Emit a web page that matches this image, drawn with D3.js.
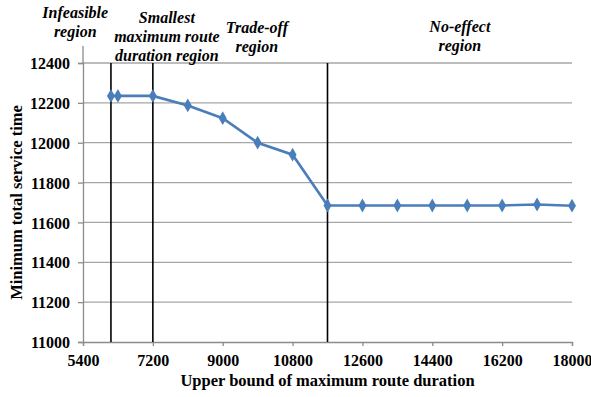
<!DOCTYPE html>
<html>
<head>
<meta charset="utf-8">
<script src="https://cdn.jsdelivr.net/npm/d3@7"></script>
<style>
  body { margin: 0; background: #fff; }
</style>
</head>
<body>
<svg width="591" height="397"></svg>
<script>
// values
var durations = [6120, 6300, 7200, 8100, 9000, 9900, 10800, 11700, 12600, 13500, 14400, 15300, 16200, 17100, 18000];
var serviceTimes = [12235, 12235, 12235, 12187, 12123, 12000, 11940, 11685, 11685, 11685, 11685, 11685, 11685, 11690, 11684];
var xTicks = [5400, 7200, 9000, 10800, 12600, 14400, 16200, 18000];
var yTicks = [11000, 11200, 11400, 11600, 11800, 12000, 12200, 12400];
var boundaries = [6120, 7200, 11700];
var regionNames = [["Infeasible", "region"], ["Smallest", "maximum route", "duration region"], ["Trade-off", "region"], ["No-effect", "region"]];
var regionCenters = [5200, 7560, 9880, 15110];

var serif = "'Liberation Serif', 'Times New Roman', Tinos, 'DejaVu Serif', serif";

const svg = d3.select("svg")
  .attr("font-family", serif)
  .attr("font-weight", "bold");
var mLeft = 83, mRight = 572, mTop = 63, mBottom = 342;
var labelTops = [18, 23, 33, 32];

var x = d3.scaleLinear().domain([5400, 18000]).range([mLeft, mRight]);
var y = d3.scaleLinear().domain([11000, 12400]).range([mBottom, mTop]);

// gridlines
svg.append("g")
  .selectAll("line")
  .data(yTicks.slice(1))
  .join("line")
  .attr("x1", mLeft)
  .attr("x2", mRight)
  .attr("y1", function (d) { return y(d); })
  .attr("y2", function (d) { return y(d); })
  .attr("stroke", "#a6a6a6")
  .attr("stroke-width", 1.3);

// axes
var yAxis = svg.append("g")
  .attr("transform", "translate(" + mLeft + ",0)")
  .call(d3.axisLeft(y).tickValues(yTicks).tickSize(5).tickPadding(8).tickFormat(d3.format("d")));
var xAxis = svg.append("g")
  .attr("transform", "translate(0," + mBottom + ")")
  .call(d3.axisBottom(x).tickValues(xTicks).tickSize(4).tickPadding(6).tickFormat(d3.format("d")));

// the value axis line runs a bit past the top gridline
yAxis.append("line")
  .attr("y1", y(12400))
  .attr("y2", y(12485))
  .attr("stroke", "#8c8c8c")
  .attr("stroke-width", 1.3);

[yAxis, xAxis].forEach(function (a) {
  a.attr("font-family", serif).attr("font-size", 16);
  a.select(".domain").attr("stroke", "#8c8c8c").attr("stroke-width", 1.3);
  a.selectAll(".tick line").attr("stroke", "#8c8c8c").attr("stroke-width", 1.3);
  a.selectAll("text").attr("fill", "#000");
});
yAxis.selectAll("text").attr("dy", "0.35em");
xAxis.selectAll("text").attr("dy", "0.9em");

// region boundaries
svg.append("g")
  .selectAll("line")
  .data(boundaries)
  .join("line")
  .attr("x1", function (d) { return x(d); })
  .attr("x2", function (d) { return x(d); })
  .attr("y1", y(12400))
  .attr("y2", y(11000))
  .attr("stroke", "#000")
  .attr("stroke-width", 1.6);

// series line
var pts = durations.map(function (d, i) { return [d, serviceTimes[i]]; });
svg.append("path")
  .datum(pts)
  .attr("fill", "none")
  .attr("stroke", "#4a7ebb")
  .attr("stroke-width", 2.6)
  .attr("d", d3.line().x(function (d) { return x(d[0]); }).y(function (d) { return y(d[1]); }));

svg.append("g")
  .selectAll("path")
  .data(pts)
  .join("path")
  .attr("transform", function (d) { return "translate(" + x(d[0]) + "," + y(d[1]) + ")"; })
  .attr("d", d3.symbol().type(d3.symbolDiamond).size(55))
  .attr("fill", "#4a7ebb");

// region labels
regionNames.forEach(function (lines, k) {
  var t = svg.append("text")
    .attr("text-anchor", "middle")
    .attr("font-style", "italic")
    .attr("font-size", 16);
  lines.forEach(function (s, i) {
    t.append("tspan")
      .attr("x", x(regionCenters[k]))
      .attr("y", labelTops[k] + i * 19)
      .text(s);
  });
});

// axis titles
svg.append("text")
  .attr("x", (mLeft + mRight) / 2)
  .attr("y", 386)
  .attr("text-anchor", "middle")
  .attr("font-size", 16.5)
  .text("Upper bound of maximum route duration");

svg.append("text")
  .attr("transform", "translate(22," + (mTop + mBottom) / 2 + ") rotate(-90)")
  .attr("text-anchor", "middle")
  .attr("font-size", 16.5)
  .text("Minimum total service time");
</script>
</body>
</html>
